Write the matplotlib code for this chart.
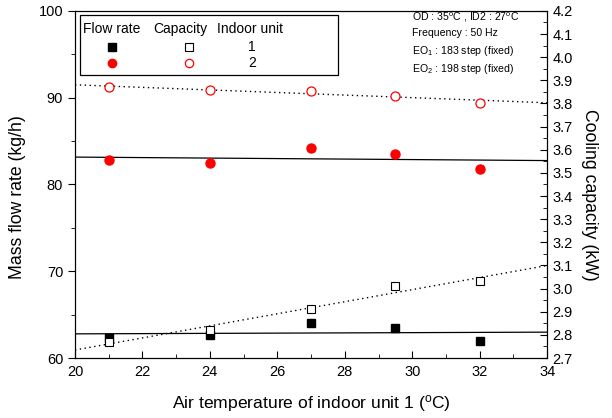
import matplotlib
matplotlib.use("Agg")
import matplotlib.pyplot as plt
import numpy as np
from matplotlib.patches import Rectangle

plt.rcParams["font.family"] = ["Liberation Sans", "DejaVu Sans"]
plt.rcParams["mathtext.fontset"] = "custom"
plt.rcParams["mathtext.rm"] = "Liberation Sans"
plt.rcParams["mathtext.it"] = "Liberation Sans:italic"

# air temperature of indoor unit 1 (C)
temp = [21, 24, 27, 29.5, 32]
# mass flow rate (kg/h)
flow_unit1 = [62.3, 62.65, 64.03, 63.42, 61.99]
flow_unit2 = [82.82, 82.44, 84.24, 83.55, 81.75]
# cooling capacity (kW)
cap_unit1 = [2.770, 2.820, 2.913, 3.011, 3.033]
cap_unit2 = [3.870, 3.856, 3.854, 3.833, 3.804]

fig = plt.figure(figsize=(6.12, 4.18), dpi=100)
ax = fig.add_axes([0.1225, 0.1435, 0.7715, 0.8305])
ax2 = ax.twinx()

# linear fits across the full x range
xfit = np.array([20, 34])
for y in (flow_unit1, flow_unit2):
    p = np.polyfit(temp, y, 1)
    ax.plot(xfit, np.polyval(p, xfit), "-", color="black", lw=0.9)
for y in (cap_unit1, cap_unit2):
    p = np.polyfit(temp, y, 1)
    ax2.plot(xfit, np.polyval(p, xfit), color="black", lw=1.0, ls=(0, (1, 2.5)))

ax.plot(temp, flow_unit1, "s", color="black", ms=6, ls="none")
ax.plot(temp, flow_unit2, "o", color="red", ms=6.5, ls="none")
ax2.plot(temp, cap_unit1, "s", mfc="white", mec="black", mew=0.8, ms=6, ls="none")
ax2.plot(temp, cap_unit2, "o", mfc="white", mec="red", mew=0.9, ms=6.5, ls="none")

ax.set_xlim(20, 34)
ax.set_ylim(60, 100)
ax2.set_ylim(2.7, 4.2)
ax.set_xticks(np.arange(20, 35, 2))
ax.set_xticks(np.arange(20, 35, 1), minor=True)
ax.set_yticks(np.arange(60, 101, 10))
ax.set_yticks(np.arange(60, 101, 5), minor=True)
ax2.set_yticks(np.arange(2.7, 4.21, 0.1))
ax2.set_yticks(np.arange(2.7, 4.21, 0.05), minor=True)
ax2.set_yticklabels([f"{v:.1f}" for v in np.arange(2.7, 4.21, 0.1)])

ax.tick_params(axis="x", which="both", direction="in", labelsize=10.5)
ax.tick_params(axis="x", which="major", length=5, pad=5)
ax.tick_params(axis="x", which="minor", length=3)
ax.tick_params(axis="y", which="major", direction="out", length=5, labelsize=10.5)
ax.tick_params(axis="y", which="minor", direction="out", length=3)
ax2.tick_params(axis="y", which="major", direction="in", length=5, labelsize=10.5, pad=4)
ax2.tick_params(axis="y", which="minor", direction="in", length=3)

ax.set_xlabel("Air temperature of indoor unit 1 ($^{\\rm o}$C)", fontsize=12.6, labelpad=10)
ax.set_ylabel("Mass flow rate (kg/h)", fontsize=12.7, ha="center", va="center")
ax2.set_ylabel("Cooling capacity (kW)", fontsize=12.7, rotation=270,
               ha="center", va="center")
ax.yaxis.set_label_coords((18 - 75) / 472, 0.465)
ax2.yaxis.set_label_coords((589 - 75) / 472, 0.47)

# legend table
ax.add_patch(Rectangle((0.0106, 0.816), 0.546, 0.172, transform=ax.transAxes,
                       fill=False, ec="black", lw=0.9, zorder=5))
ax.text(0.017, 0.948, "Flow rate", transform=ax.transAxes, fontsize=10, va="center")
ax.text(0.165, 0.948, "Capacity", transform=ax.transAxes, fontsize=10, va="center")
ax.text(0.300, 0.948, "Indoor unit", transform=ax.transAxes, fontsize=10, va="center")
ax.plot([0.078], [0.896], "s", color="black", ms=5.5, transform=ax.transAxes)
ax.plot([0.078], [0.850], "o", color="red", ms=6, transform=ax.transAxes)
ax.plot([0.242], [0.896], "s", mfc="white", mec="black", mew=0.8, ms=5.5, transform=ax.transAxes)
ax.plot([0.242], [0.850], "o", mfc="white", mec="red", mew=0.9, ms=6, transform=ax.transAxes)
ax.text(0.375, 0.896, "1", transform=ax.transAxes, fontsize=10, va="center", ha="center")
ax.text(0.375, 0.850, "2", transform=ax.transAxes, fontsize=10, va="center", ha="center")

# operating conditions
notes = ["OD : 35$^{\\rm o}$C , ID2 : 27$^{\\rm o}$C",
         "Frequency : 50 Hz",
         "EO$_{\\rm 1}$ : 183 step (fixed)",
         "EO$_{\\rm 2}$ : 198 step (fixed)"]
for txt, py in zip(notes, (17, 33, 51, 69)):
    ax.text((412 - 75) / 472, (358 - py) / 347, txt, transform=ax.transAxes,
            fontsize=7.6, va="center")

fig.savefig("out.png", dpi=100)
